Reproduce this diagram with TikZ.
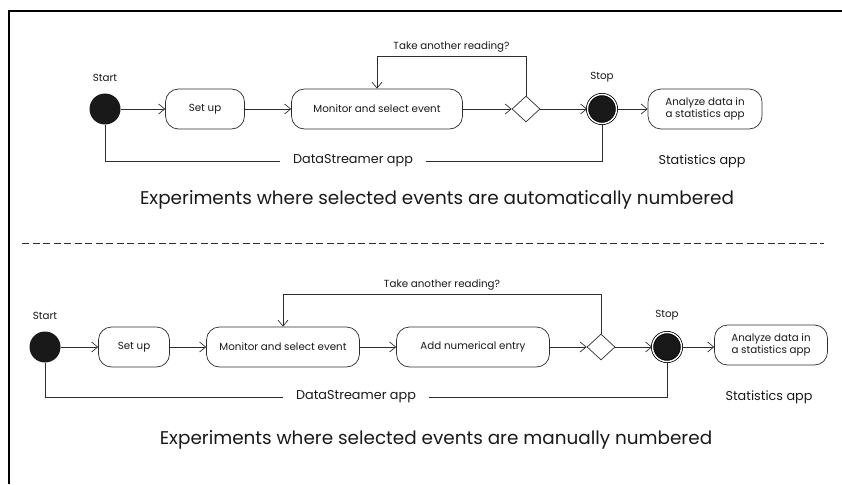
\documentclass[tikz,border=0pt]{standalone}
\usepackage{fontspec}
\setmainfont{Poppins}
\usetikzlibrary{shapes.geometric, arrows.meta, positioning, calc}
\definecolor{umlline}{RGB}{45,45,45}
\definecolor{umltext}{RGB}{25,25,25}

\begin{document}
\begin{tikzpicture}[
    x=1pt, y=-1pt,
    state/.style={
        rectangle,
        rounded corners=13pt,
        draw=umlline,
        line width=0.7pt,
        minimum width=#1,
        minimum height=40pt,
        font=\fontsize{10.3}{12}\selectfont,
        text=umltext
    },
    decision/.style={diamond, draw=umlline, line width=0.7pt, minimum width=28pt, minimum height=26pt, inner sep=0pt},
    startdot/.style={circle, fill=black!90, minimum size=31pt, inner sep=0pt},
    stopdot/.style={circle, draw=black, fill=black!90, double=white, double distance=1.4pt, line width=0.8pt, minimum size=29pt, inner sep=0pt},
    arrow/.style={-{Straight Barb[length=6pt, width=10pt]}, line width=0.7pt, draw=umlline},
    line/.style={line width=0.7pt, draw=umlline},
    tag/.style={font=\fontsize{10.3}{12}\selectfont, text=umltext, inner sep=1pt},
    app/.style={font=\fontsize{12.8}{15}\selectfont, text=umltext, inner xsep=13pt},
    caption/.style={font=\fontsize{18.4}{21}\selectfont, text=umltext}
]
\useasboundingbox (0,0) rectangle (842,484);

% frame and divider
\draw[line width=2pt] (9,484) -- (9,11) -- (842,11);
\draw[dashed, dash pattern=on 7pt off 3.5pt, line width=0.6pt, draw=umlline] (22,243) -- (824,243);

% Upper diagram: events numbered automatically
\node[startdot] (start1) at (105,109) {};
\node[tag, above=11pt of start1] (startlbl1) {Start};
\node[state=79pt] (setup1) at (205,109) {Set up};
\node[state=171pt] (monitor1) at (377,109) {Monitor and select event};
\node[decision] (choice1) at (526,109) {};
\node[stopdot] (stop1) at (602,109) {};
\node[tag, above=11pt of stop1] (stoplbl1) {Stop};
\node[state=114pt, align=center] (analyze1) at (705,109) {Analyze data in\\a statistics app};
\node[app] (dsapp1) at (353,161) {DataStreamer app};
\node[app] (statapp1) at (702,161) {Statistics app};
\node[caption] (cap1) at (437,200) {Experiments where selected events are automatically numbered};

\draw[arrow] (start1) -- (setup1);
\draw[arrow] (setup1) -- (monitor1);
\draw[arrow] (monitor1) -- (choice1);
\draw[arrow] (choice1) -- (stop1);
\draw[arrow] (stop1) -- (analyze1);
\draw[arrow] (choice1.north) -- ++(0,-39) -| node[tag, pos=0.25, above=3pt] (again1) {Take another reading?} (monitor1.north);
\draw[line] (start1.south) |- (dsapp1.west);
\draw[line] (dsapp1.east) -| (stop1.south);

% Lower diagram: events numbered by hand
\node[startdot] (start2) at (45,347) {};
\node[tag, above=11pt of start2] (startlbl2) {Start};
\node[state=71pt] (setup2) at (134,347) {Set up};
\node[state=153pt] (monitor2) at (283,347) {Monitor and select event};
\node[state=153pt] (entry2) at (473,347) {Add numerical entry};
\node[decision] (choice2) at (601,347) {};
\node[stopdot] (stop2) at (667,347) {};
\node[tag, above=11pt of stop2] (stoplbl2) {Stop};
\node[state=113pt, align=center] (analyze2) at (771,345) {Analyze data in\\a statistics app};
\node[app] (dsapp2) at (356,397) {DataStreamer app};
\node[app] (statapp2) at (769,397) {Statistics app};
\node[caption] (cap2) at (436,440) {Experiments where selected events are manually numbered};

\draw[arrow] (start2) -- (setup2);
\draw[arrow] (setup2) -- (monitor2);
\draw[arrow] (monitor2) -- (entry2);
\draw[arrow] (entry2) -- (choice2);
\draw[arrow] (choice2) -- (stop2);
\draw[arrow] (stop2.east) -- (stop2.east -| analyze2.west);
\draw[arrow] (choice2.north) -- ++(0,-39) -| node[tag, pos=0.25, above=3pt] (again2) {Take another reading?} (monitor2.north);
\draw[line] (start2.south) |- (dsapp2.west);
\draw[line] (dsapp2.east) -| (stop2.south);

\end{tikzpicture}
\end{document}
